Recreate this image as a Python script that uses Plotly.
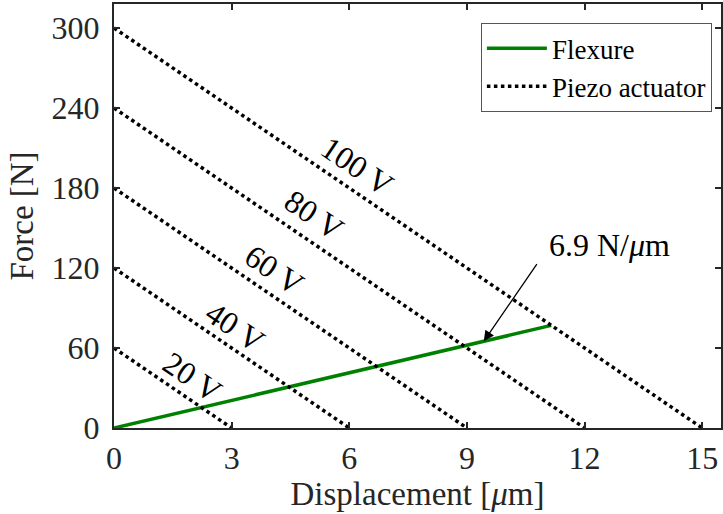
import plotly.graph_objects as go

# Piezo actuator load lines (blocked force vs. free stroke) per drive voltage
voltages = [20, 40, 60, 80, 100]
blocked_force = [60, 120, 180, 240, 300]   # N
free_stroke = [3, 6, 9, 12, 15]            # um

# Flexure stiffness line
flex_stiffness = 6.9                        # N/um
flex_x = [0, 11.15]

# Voltage label placement (data coordinates)
label_x = [2.0, 3.1, 4.09, 5.11, 6.2]
label_y = [38, 76, 118.5, 160, 196.5]

x_ticks = [0, 3, 6, 9, 12, 15]
y_ticks = [0, 60, 120, 180, 240, 300]

FONT = "Liberation Serif"
AX = "#262626"

fig = go.Figure()

fig.add_trace(go.Scatter(
    x=flex_x, y=[flex_stiffness * v for v in flex_x],
    mode="lines", name="Flexure",
    line=dict(color="#008000", width=3.5),
))

for i, (f0, s0) in enumerate(zip(blocked_force, free_stroke)):
    fig.add_trace(go.Scatter(
        x=[0, s0], y=[f0, 0], mode="lines", name="Piezo actuator",
        line=dict(color="black", width=3.5, dash="dot"),
        showlegend=(i == 0),
    ))

for v, lx, ly in zip(voltages, label_x, label_y):
    fig.add_annotation(x=lx, y=ly, text=f"{v} V", showarrow=False,
                       textangle=34, font=dict(family=FONT, size=32, color="black"))

# Stiffness callout
fig.add_annotation(x=9.43, y=flex_stiffness * 9.43, ax=10.81, ay=124,
                   axref="x", ayref="y", text="", showarrow=True,
                   arrowhead=2, arrowsize=1.6, arrowwidth=1.3, arrowcolor="black")
fig.add_annotation(x=12.64, y=137, text="6.9 N/<i>μ</i>m", showarrow=False,
                   font=dict(family=FONT, size=32, color="black"))

axis_common = dict(
    showline=True, linecolor=AX, linewidth=2, mirror="ticks",
    ticks="inside", ticklen=6, tickwidth=1.5, tickcolor=AX,
    showgrid=False, zeroline=False,
    tickfont=dict(family=FONT, size=32, color=AX),
)

fig.update_xaxes(range=[0, 15.48], tickvals=x_ticks, ticklabelstandoff=1,
                 title=dict(text="Displacement [<i>μ</i>m]", standoff=2,
                            font=dict(family=FONT, size=33, color=AX)),
                 **axis_common)
fig.update_yaxes(range=[0, 318], tickvals=y_ticks, ticklabelstandoff=6,
                 title=dict(text="Force [N]", standoff=8,
                            font=dict(family=FONT, size=33, color=AX)),
                 **axis_common)

fig.update_layout(
    width=723, height=514,
    margin=dict(l=114, r=0, t=4, b=86),
    plot_bgcolor="white", paper_bgcolor="white",
    font=dict(family=FONT, color="black"),
    legend=dict(x=0.985, y=0.955, xanchor="right", yanchor="top",
                bgcolor="white", bordercolor="#555555", borderwidth=1,
                font=dict(family=FONT, size=27, color="black"),
                itemwidth=60, tracegroupgap=0),
)

fig.write_html("out.html")
